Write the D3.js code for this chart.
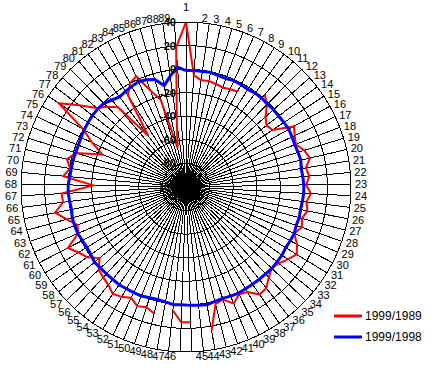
<!DOCTYPE html>
<html>
<head>
<meta charset="utf-8">
<script src="https://cdn.jsdelivr.net/npm/d3@7"></script>
<style>
  body { margin: 0; background: #fff; }
  svg { display: block; font-family: Arial, "Liberation Sans", sans-serif; }
</style>
</head>
<body>
<div id="chart"></div>
<script>
// categories 1..89
const categories = d3.range(1, 90).map(String);

const radialTicks = [-100, -80, -60, -40, -20, 0, 20, 40];

// 1999/1989 (null = no value)
const series1989 = [
  40, -5, -8.5, -8, -9, -10, -9, -8, null, null,
  3, -2, -10, -14, -12, 5, 2, 0, 5, 8,
  3, 5, 2, 6, 3, 5, 2, 4, 0, 6,
  10, 6, 2, 0, 4, 9.6, 10.6, 3.3, 1.6, 6.9,
  0.5, 2.5, 23.7, null, 14.8, 14.8, 5.4, null, 10.7, 7.3,
  9.2, 5, 8, 10, 6, 4, 2, -5, 2.9, 6.8,
  12.8, -0.5, -2.4, 4.8, 13.2, 5.1, 5.7, -21.3, 4.6, -0.4,
  3.7, -2.2, -23.9, -12, 0, 29.3, 14, 1.3, -4.5, -11,
  -46, -7.8, 0, 3, -13, -23, -66, -45, 18.7
];

// 1999/1998
const series1998 = [
  -1.2, -1, -1, -0.5, -1.5, -2, -1, -1.5, -2, -1,
  -1, -1.5, -1, -1, -0.5, 0, -0.5, -1, -0.5, 0,
  -1, -0.5, 0, 0, -0.5, -1, -0.5, -1, 0, -0.5,
  -1, 0, 0, 0.5, 0, 0, 0, 0, 0.5, 0,
  -0.5, 0, 1.5, 1, 0.5, 0, 0.5, -1, -1.5, -1,
  0, 0, 0, 0.5, 0, 0, 0, 0.5, -1, -1.5,
  -1, 0, 0, 0, -1, -0.5, 0, 0, -1, -1.5,
  -1.5, -2, -2, -1.5, -1, -0.5, 0, 0, -0.5, -3,
  -5, -4, -3, -2, -3, -5, -12, -5, 2
];

const seriesNames = ["1999/1989", "1999/1998"];
const seriesColors = ["#ff0000", "#0000ff"];

const width = 435;
const height = 377;
const cx = 186, cy = 187;
const outer = 165;

const svg = d3.select("#chart")
  .append("svg")
  .attr("width", width)
  .attr("height", height);

const g = svg.append("g")
  .attr("transform", `translate(${cx},${cy})`);

const rScale = d3.scaleLinear()
  .domain([-100, 40])
  .range([0, outer]);

const n = categories.length;
const angle = i => i * 2 * Math.PI / n;

// polygon gridlines
radialTicks.filter(t => t > -100).forEach(t => {
  const pts = categories.map((c, i) => [
    Math.sin(angle(i)) * rScale(t),
    -Math.cos(angle(i)) * rScale(t)
  ]);
  g.append("path")
    .attr("d", d3.line()(pts) + "Z")
    .attr("fill", "none")
    .attr("stroke", "#000")
    .attr("stroke-width", 1)
    .attr("shape-rendering", "crispEdges");
});

// spokes
g.selectAll(".spoke")
  .data(categories)
  .enter()
  .append("line")
  .attr("class", "spoke")
  .attr("x1", 0)
  .attr("y1", 0)
  .attr("x2", (d, i) => Math.sin(angle(i)) * rScale(40))
  .attr("y2", (d, i) => -Math.cos(angle(i)) * rScale(40))
  .attr("stroke", "#000")
  .attr("stroke-width", 1)
  .attr("shape-rendering", "crispEdges");

// category labels: anchored at the outer ring point, pushed outwards
g.selectAll(".cat")
  .data(categories)
  .enter()
  .append("text")
  .attr("class", "cat")
  .attr("x", (d, i) => {
    const s = Math.sin(angle(i));
    const x = s * outer;
    if (i === 0) return x;
    return s > 0 ? x + 4 : x - 4;
  })
  .attr("y", (d, i) => {
    const c = Math.cos(angle(i));
    if (i === 0) return -outer - 15.5;
    return -c * outer - 4.5 * c;
  })
  .attr("text-anchor", (d, i) => i === 0 ? "middle" : (Math.sin(angle(i)) > 0 ? "start" : "end"))
  .attr("dominant-baseline", "central")
  .attr("font-size", "11px")
  .attr("fill", "#000")
  .text(d => d);

// series lines
const line = d3.lineRadial()
  .angle((d, i) => angle(i))
  .radius(d => rScale(d))
  .defined(d => d !== null);

[series1989, series1998].forEach((s, k) => {
  g.append("path")
    .attr("d", line(s.concat([s[0]])))
    .attr("fill", "none")
    .attr("stroke", seriesColors[k])
    .attr("stroke-width", k === 0 ? 2 : 3)
    .attr("stroke-linejoin", "miter");
});

// radial axis ticks and labels
g.selectAll(".rtick")
  .data(radialTicks)
  .enter()
  .append("line")
  .attr("x1", -3)
  .attr("x2", 3)
  .attr("y1", d => -rScale(d))
  .attr("y2", d => -rScale(d))
  .attr("stroke", "#000")
  .attr("shape-rendering", "crispEdges");

g.selectAll(".rlabel")
  .data(radialTicks)
  .enter()
  .append("text")
  .attr("class", "rlabel")
  .attr("x", -10)
  .attr("y", d => -rScale(d))
  .attr("text-anchor", "end")
  .attr("dominant-baseline", "central")
  .attr("font-size", "11px")
  .attr("font-weight", "bold")
  .attr("fill", "#000")
  .text(d => d);

// legend
const legend = svg.selectAll(".legend")
  .data(seriesNames)
  .enter()
  .append("g")
  .attr("class", "legend")
  .attr("transform", (d, i) => `translate(334,${316 + i * 21})`);

legend.append("line")
  .attr("x1", 0)
  .attr("x2", 28)
  .attr("stroke", (d, i) => seriesColors[i])
  .attr("stroke-width", 3);

legend.append("text")
  .attr("x", 31)
  .attr("y", 0)
  .attr("dominant-baseline", "central")
  .attr("font-size", "12px")
  .text(d => d);
</script>
</body>
</html>
